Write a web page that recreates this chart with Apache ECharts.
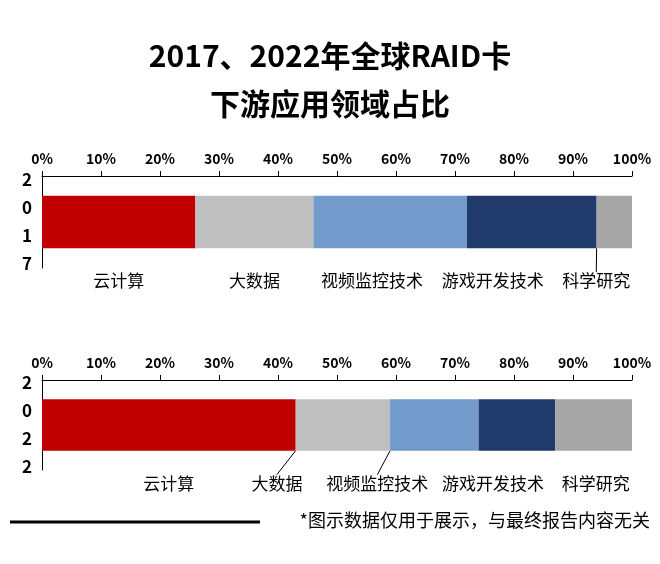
<!DOCTYPE html>
<html><head><meta charset="utf-8">
<script src="https://cdn.jsdelivr.net/npm/echarts@6/dist/echarts.min.js"></script>
<style>html,body{margin:0;padding:0;background:#fff}#c{width:660px;height:564px}</style>
</head><body><div id="c"></div>
<script>
const categories = ['云计算','大数据','视频监控技术','游戏开发技术','科学研究'];
const years = ['2\n0\n1\n7','2\n0\n2\n2'];
const values2017 = [26,20,26,22,6];
const values2022 = [43,16,15,13,13];
const colors = ['#c00000','#bfbfbf','#729aca','#1f3a6b','#a6a6a6'];
const shift2017 = [[0,0],[0,0],[-18,0],[-39,0],[-18,0]];
const shift2022 = [[0,0],[-66,0],[-57,0],[-24,0],[2,0]];
const lines2017 = [false,false,false,false,true];
const lines2022 = [false,true,true,false,false];
const F = '"Noto Sans CJK SC", "Noto Sans", sans-serif';
const chart = echarts.init(document.getElementById('c'));
const grids = [{left:42,right:28,top:176,height:92},{left:42,right:28,top:380,height:90}];
const xAxes = grids.map((g,i)=>({gridIndex:i,type:'value',position:'top',min:0,max:100,interval:10,
  axisLabel:{formatter:'{value}%',color:'#000',fontWeight:'bold',fontSize:14,fontFamily:F,margin:10},
  axisLine:{show:true,lineStyle:{color:'#000',width:1}},axisTick:{show:true,length:5,lineStyle:{color:'#000'}},
  splitLine:{show:false}}));
const yAxes = grids.map((g,i)=>({gridIndex:i,type:'category',data:[years[i]],
  axisLabel:{color:'#000',fontWeight:'bold',fontSize:17,lineHeight:28,fontFamily:F,margin:10},
  axisLine:{show:true,lineStyle:{color:'#000'}},axisTick:{show:false}}));
const series=[];
[values2017,values2022].forEach((vals,gi)=>{
  const sh = gi===0?shift2017:shift2022;
  const ln = gi===0?lines2017:lines2022;
  vals.forEach((v,ci)=>{
    series.push({type:'bar',name:categories[ci],stack:'s'+gi,xAxisIndex:gi,yAxisIndex:gi,barWidth:'57%',
      data:[v],itemStyle:{color:colors[ci]},
      label:{show:true,position:'bottom',distance:24,formatter:categories[ci],color:'#000',fontSize:17,fontFamily:F},
      labelLayout:{dx:sh[ci][0],dy:sh[ci][1]},
      labelLine:{show:ln[ci],lineStyle:{color:'#000',width:1}}});
  });
});
chart.setOption({
  animation:false,
  title:{text:'2017、2022年全球RAID卡\n下游应用领域占比',left:'center',top:27,
    textStyle:{fontSize:30,fontWeight:'bold',color:'#000',lineHeight:48,fontFamily:F}},
  grid:grids,xAxis:xAxes,yAxis:yAxes,series:series,
  graphic:[
    {type:'line',shape:{x1:10,y1:522,x2:260,y2:522},style:{stroke:'#000',lineWidth:3}},
    {type:'text',right:10,top:511,style:{text:'*图示数据仅用于展示，与最终报告内容无关',fontSize:18,fill:'#000',fontFamily:F}}
  ]
});
</script></body></html>
